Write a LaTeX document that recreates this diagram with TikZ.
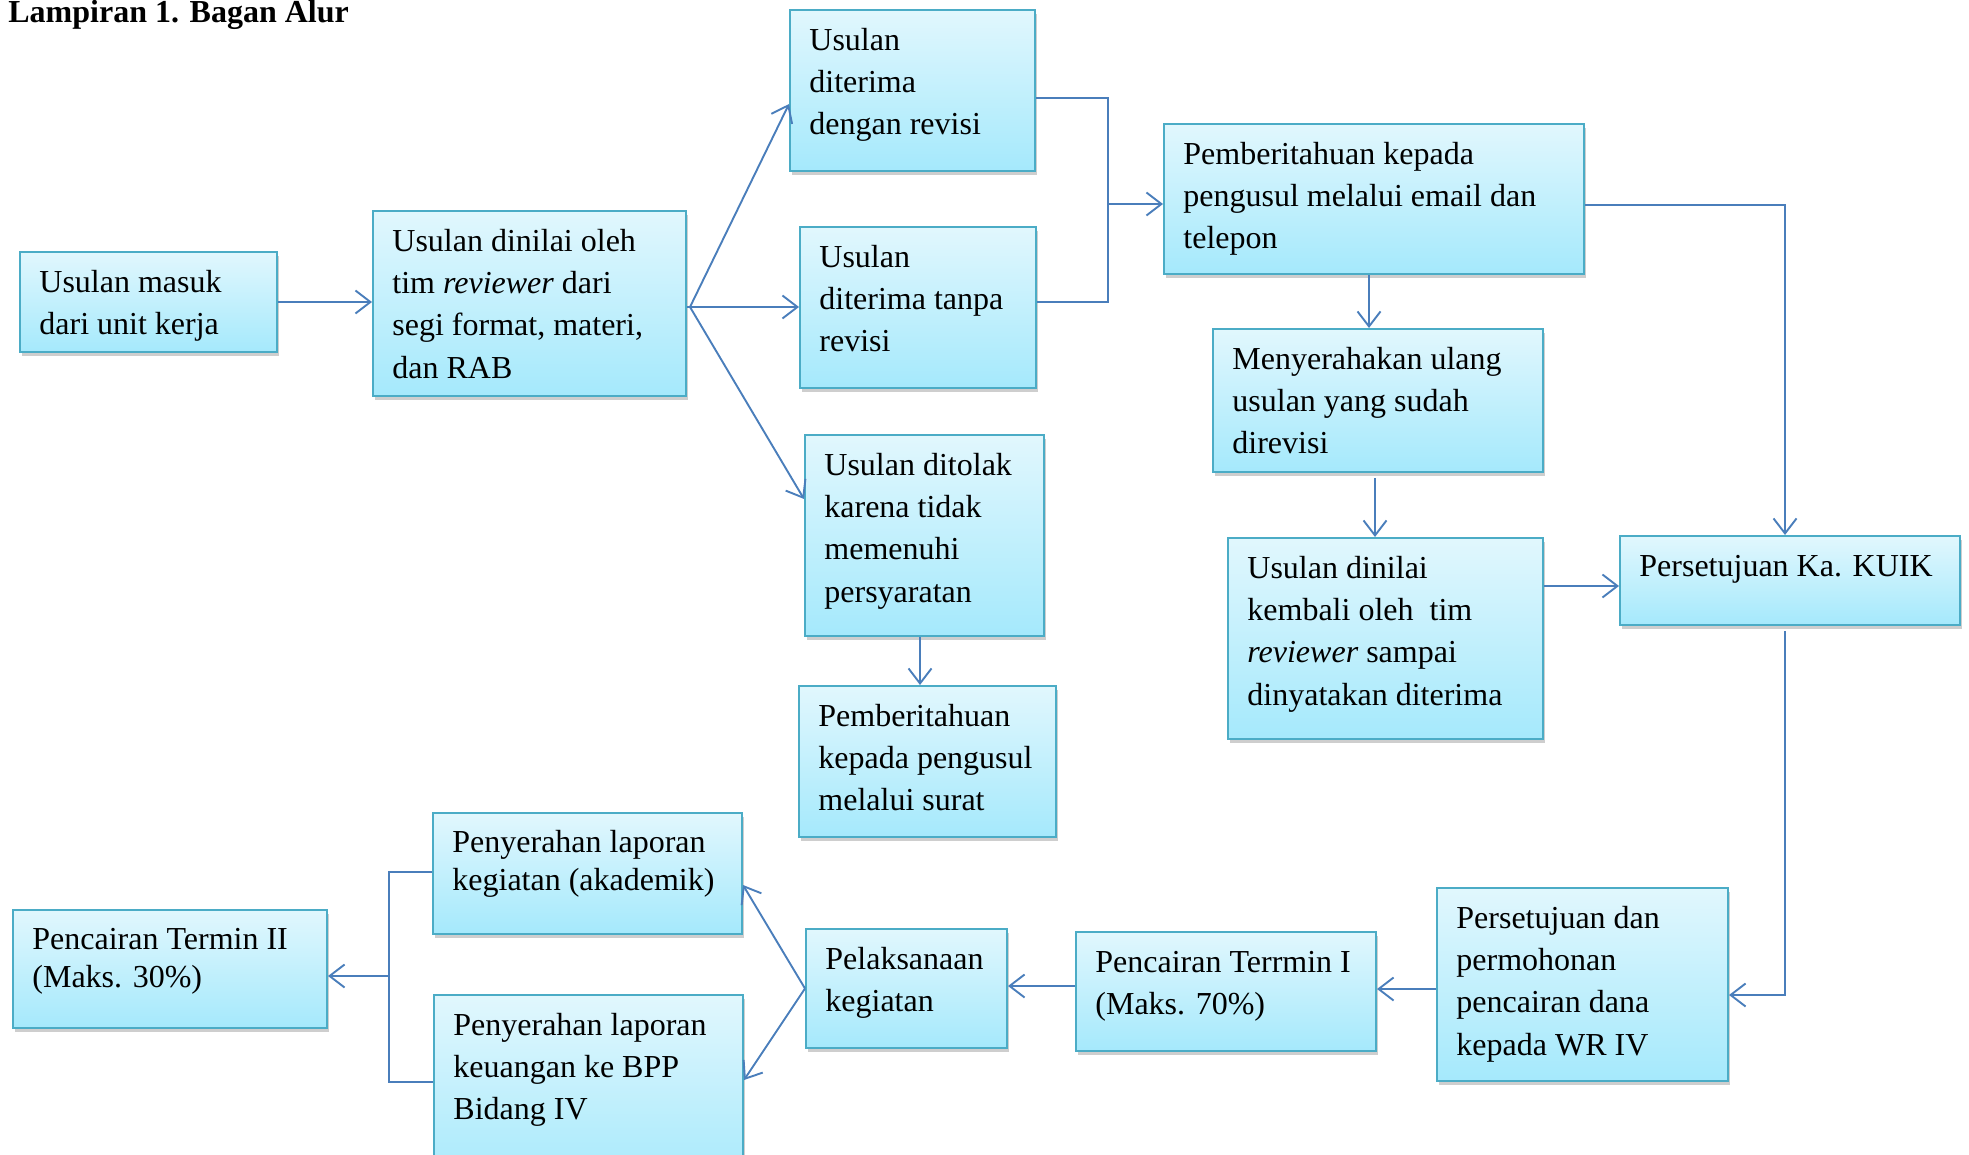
\documentclass[tikz,border=0pt]{standalone}
\usepackage{fontspec}
\setmainfont{Liberation Serif}
\usetikzlibrary{arrows.meta,shadows,fit,calc}
\definecolor{boxtop}{HTML}{E1F7FD}
\definecolor{boxbot}{HTML}{A5E9FC}
\definecolor{boxline}{HTML}{4BACC6}
\definecolor{connclr}{HTML}{4A7EBB}
\tikzset{
  flowbox/.style={draw=boxline, line width=1pt, top color=boxtop, bottom color=boxbot, inner sep=0pt,
    drop shadow={shadow xshift=1.2pt, shadow yshift=-2.2pt, opacity=0.35, fill=black!55}},
  boxtext/.style={anchor=north west, inner sep=0pt, align=left, font=\fontsize{16}{21.2}\selectfont},
  boxtextb/.style={anchor=north west, inner sep=0pt, align=left, font=\fontsize{16}{19.2}\selectfont},
  link/.style={draw=connclr, line width=0.95pt},
  arrowlink/.style={link, -{Straight Barb[length=7.5pt,width=11.5pt,line width=0.95pt]}},
}
\begin{document}
\begin{tikzpicture}[x=0.5pt, y=-0.5pt]
\useasboundingbox (0,0) rectangle (1969,1155);
% title
\node[anchor=base west, inner sep=0pt, font=\fontsize{16}{19}\selectfont\bfseries] (title) at (8,23) {Lampiran 1. Bagan Alur};
% boxes
\node[flowbox, fit={(20,252) (277,352)}] (B1) {};
\node[boxtext] (T1) at ([shift={(20,11)}]B1.north west) {\strut Usulan masuk\\dari unit kerja};
\node[flowbox, fit={(373,211) (686,396)}] (B2) {};
\node[boxtext] (T2) at ([shift={(20,11)}]B2.north west) {\strut Usulan dinilai oleh\\tim \textit{reviewer} dari\\segi format, materi,\\dan RAB};
\node[flowbox, fit={(790,10) (1035,171)}] (B3) {};
\node[boxtext] (T3) at ([shift={(20,11)}]B3.north west) {\strut Usulan\\diterima\\dengan revisi};
\node[flowbox, fit={(800,227) (1036,388)}] (B4) {};
\node[boxtext] (T4) at ([shift={(20,11)}]B4.north west) {\strut Usulan\\diterima tanpa\\revisi};
\node[flowbox, fit={(1164,124) (1584,274)}] (B5) {};
\node[boxtext] (T5) at ([shift={(20,11)}]B5.north west) {\strut Pemberitahuan kepada\\pengusul melalui email dan\\telepon};
\node[flowbox, fit={(1213,329) (1543,472)}] (B6) {};
\node[boxtext] (T6) at ([shift={(20,11)}]B6.north west) {\strut Menyerahakan ulang\\usulan yang sudah\\direvisi};
\node[flowbox, fit={(1228,538) (1543,739)}] (B7) {};
\node[boxtext] (T7) at ([shift={(20,11)}]B7.north west) {\strut Usulan dinilai\\kembali oleh\ \ tim\\\textit{reviewer} sampai\\dinyatakan diterima};
\node[flowbox, fit={(1620,536) (1960,625)}] (B8) {};
\node[boxtext] (T8) at ([shift={(20,11)}]B8.north west) {\strut Persetujuan Ka. KUIK};
\node[flowbox, fit={(805,435) (1044,636)}] (B9) {};
\node[boxtext] (T9) at ([shift={(20,11)}]B9.north west) {\strut Usulan ditolak\\karena tidak\\memenuhi\\persyaratan};
\node[flowbox, fit={(799,686) (1056,837)}] (B10) {};
\node[boxtext] (T10) at ([shift={(20,11)}]B10.north west) {\strut Pemberitahuan\\kepada pengusul\\melalui surat};
\node[flowbox, fit={(1437,888) (1728,1081)}] (B11) {};
\node[boxtext] (T11) at ([shift={(20,11)}]B11.north west) {\strut Persetujuan dan\\permohonan\\pencairan dana\\kepada WR IV};
\node[flowbox, fit={(1076,932) (1376,1051)}] (B12) {};
\node[boxtext] (T12) at ([shift={(20,11)}]B12.north west) {\strut Pencairan Terrmin I\\(Maks. 70\%)};
\node[flowbox, fit={(806,929) (1007,1048)}] (B13) {};
\node[boxtext] (T13) at ([shift={(20,11)}]B13.north west) {\strut Pelaksanaan\\kegiatan};
\node[flowbox, fit={(433,813) (742,934)}] (B14) {};
\node[boxtextb] (T14) at ([shift={(20,13)}]B14.north west) {\strut Penyerahan laporan\\kegiatan (akademik)};
\node[flowbox, fit={(434,995) (743,1190)}] (B15) {};
\node[boxtext] (T15) at ([shift={(20,11)}]B15.north west) {\strut Penyerahan laporan\\keuangan ke BPP\\Bidang IV};
\node[flowbox, fit={(13,910) (327,1028)}] (B16) {};
\node[boxtextb] (T16) at ([shift={(20,13)}]B16.north west) {\strut Pencairan Termin II\\(Maks. 30\%)};
% connectors
\draw[arrowlink] (B1.east) -- (B1.east -| B2.west);
\coordinate (br) at (690,307);
\draw[link] (B2.east |- br) -- (br);
\coordinate (t3) at (0,104);
\coordinate (t9) at (0,499);
\draw[arrowlink] (br) -- (B3.west |- t3);
\draw[arrowlink] (br) -- (B4.west |- br);
\draw[arrowlink] (br) -- (B9.west |- t9);
\coordinate (j1) at (1108,98);
\coordinate (j2) at (1108,302);
\coordinate (jm) at (1108,204);
\draw[link] (B3.east |- j1) -- (j1) -- (j2) -- (B4.east |- j2);
\draw[arrowlink] (jm) -- (B5.west |- jm);
\coordinate (a56) at (1369,0);
\draw[arrowlink] (B5.south -| a56) -- (B6.north -| a56);
\coordinate (a67) at (1375,0);
\draw[arrowlink] ([yshift=-2.5pt]B6.south -| a67) -- (B7.north -| a67);
\coordinate (k1) at (1785,205);
\draw[arrowlink] (B5.east |- k1) -- (k1) -- (B8.north -| k1);
\coordinate (a78) at (0,586);
\draw[arrowlink] (B7.east |- a78) -- (B8.west |- a78);
\coordinate (k2) at (1785,995);
\draw[arrowlink] ([yshift=-2.5pt]B8.south -| k2) -- (k2) -- (B11.east |- k2);
\coordinate (a1112) at (0,989);
\draw[arrowlink] (B11.west |- a1112) -- (B12.east |- a1112);
\coordinate (a1213) at (0,986);
\draw[arrowlink] (B12.west |- a1213) -- (B13.east |- a1213);
\coordinate (t14) at (0,885);
\coordinate (t15) at (0,1080);
\draw[arrowlink] (B13.west) -- (B14.east |- t14);
\draw[arrowlink] (B13.west) -- (B15.east |- t15);
\coordinate (m1) at (389,872);
\coordinate (m2) at (389,1082);
\coordinate (mm) at (389,976);
\draw[link] (B14.west |- m1) -- (m1) -- (m2) -- (B15.west |- m2);
\draw[arrowlink] (mm) -- (B16.east |- mm);
\coordinate (a910) at (920,0);
\draw[arrowlink] (B9.south -| a910) -- (B10.north -| a910);
\end{tikzpicture}
\end{document}
